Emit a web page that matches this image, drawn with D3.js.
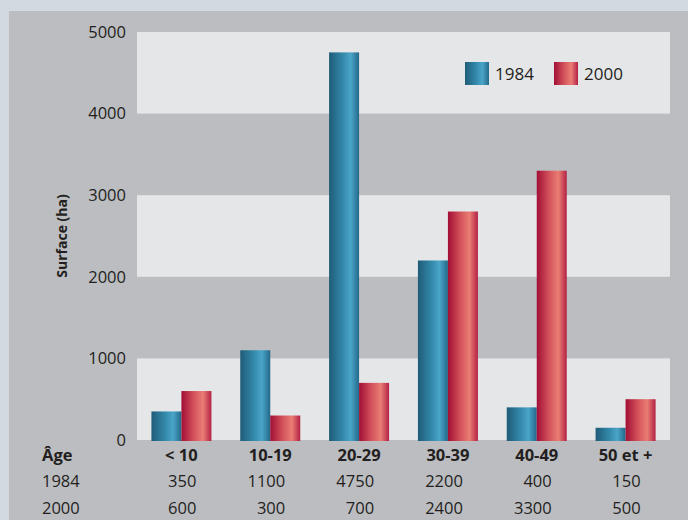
<!DOCTYPE html>
<html>
<head>
<meta charset="utf-8">
<script src="https://cdn.jsdelivr.net/npm/d3@7"></script>
<style>
  body { margin: 0; background: #d3d9e0; }
  svg { display: block; font-family: "Open Sans", "Noto Sans", sans-serif; }
</style>
</head>
<body>
<div id="chart"></div>
<script>
const ages = ["< 10", "10-19", "20-29", "30-39", "40-49", "50 et +"]
const series = ["1984", "2000"]
const values1984 = [350, 1100, 4750, 2200, 400, 150]
const values2000 = [600, 300, 700, 2800, 3300, 500]
// numbers printed in the table under the chart
const table1984 = ["350", "1100", "4750", "2200", "400", "150"]
const table2000 = ["600", "300", "700", "2400", "3300", "500"]
const yTicks = [0, 1000, 2000, 3000, 4000, 5000]

let width = 688, height = 520
let margin = { top: 32, right: 18, bottom: 80, left: 137 }
let fs = 16.5

let svg = d3.select("#chart")
    .append("svg")
    .attr("width", width)
    .attr("height", height)

// gray panel
svg.append("rect")
    .attr("x", 9).attr("y", 11)
    .attr("width", width - 9).attr("height", height - 11)
    .attr("fill", "#bcbdc1")

let x = d3.scaleBand()
    .domain(ages)
    .range([margin.left, width - margin.right])

let y = d3.scaleLinear()
    .domain([0, 5000])
    .range([height - margin.bottom, margin.top])

// light bands
svg.selectAll(".band")
    .data([0, 2000, 4000])
    .enter()
    .append("rect")
    .attr("class", "band")
    .attr("x", margin.left)
    .attr("width", width - margin.right - margin.left)
    .attr("y", d => y(d + 1000))
    .attr("height", d => y(d) - y(d + 1000))
    .attr("fill", "#e5e6e8")

// gradients
let defs = svg.append("defs")
function gradient(id, stops) {
    let g = defs.append("linearGradient").attr("id", id)
        .attr("x1", "0%").attr("x2", "100%").attr("y1", "0%").attr("y2", "0%")
    stops.forEach(s => g.append("stop").attr("offset", s[0]).attr("stop-color", s[1]))
}
gradient("blue", [["0%", "#1f5c78"], ["45%", "#3388aa"], ["72%", "#4aa5c8"], ["100%", "#23698a"]])
gradient("red", [["0%", "#a20f35"], ["40%", "#d2505a"], ["72%", "#ea7d74"], ["100%", "#b32144"]])

let xs = d3.scaleBand()
    .domain(series)
    .range([0, 60])

let offset = (x.bandwidth() - 60) / 2
let colors = { "1984": "url(#blue)", "2000": "url(#red)" }
let rows = ages.map((a, i) => ({ age: a, "1984": values1984[i], "2000": values2000[i] }))

let groups = svg.selectAll(".group")
    .data(rows)
    .enter()
    .append("g")
    .attr("transform", d => `translate(${x(d.age) + offset},0)`)

groups.selectAll("rect")
    .data(d => series.map(s => ({ key: s, value: d[s] })))
    .enter()
    .append("rect")
    .attr("x", d => xs(d.key))
    .attr("width", xs.bandwidth())
    .attr("y", d => y(d.value))
    .attr("height", d => y(0) - y(d.value) + 1)
    .attr("fill", d => colors[d.key])

// y axis labels
svg.selectAll(".ytick")
    .data(yTicks)
    .enter()
    .append("text")
    .attr("x", 126)
    .attr("y", d => y(d))
    .attr("dy", "0.35em")
    .attr("text-anchor", "end")
    .attr("font-size", fs)
    .attr("fill", "#231f20")
    .text(d => d)

svg.append("text")
    .attr("transform", `translate(67, ${y(2500)}) rotate(-90)`)
    .attr("text-anchor", "middle")
    .attr("font-size", 14)
    .attr("font-weight", "bold")
    .attr("fill", "#231f20")
    .text("Surface (ha)")

// legend
let legend = svg.append("g").attr("transform", "translate(465, 62)")
series.forEach((s, i) => {
    legend.append("rect")
        .attr("x", i * 89).attr("y", 0)
        .attr("width", 24).attr("height", 23)
        .attr("fill", colors[s])
    legend.append("text")
        .attr("x", i * 89 + 30).attr("y", 12)
        .attr("dy", "0.35em")
        .attr("font-size", 17)
        .attr("fill", "#231f20")
        .text(s)
})

// table below
let rowY = [455, 481, 508]
svg.append("text")
    .attr("x", 42).attr("y", rowY[0]).attr("dy", "0.35em")
    .attr("font-size", fs).attr("font-weight", "bold").attr("fill", "#231f20")
    .text("Âge")
svg.append("text")
    .attr("x", 42).attr("y", rowY[1]).attr("dy", "0.35em")
    .attr("font-size", fs).attr("fill", "#231f20")
    .text(series[0])
svg.append("text")
    .attr("x", 42).attr("y", rowY[2]).attr("dy", "0.35em")
    .attr("font-size", fs).attr("fill", "#231f20")
    .text(series[1])

svg.selectAll(".cat")
    .data(ages)
    .enter()
    .append("text")
    .attr("x", d => x(d) + x.bandwidth() / 2)
    .attr("y", rowY[0]).attr("dy", "0.35em")
    .attr("text-anchor", "middle")
    .attr("font-size", fs).attr("font-weight", "bold").attr("fill", "#231f20")
    .text(d => d)

;[table1984, table2000].forEach((t, r) => {
    svg.selectAll(".val" + r)
        .data(t)
        .enter()
        .append("text")
        .attr("x", (d, i) => x(ages[i]) + x.bandwidth() / 2 + 15)
        .attr("y", rowY[r + 1]).attr("dy", "0.35em")
        .attr("text-anchor", "end")
        .attr("font-size", fs).attr("fill", "#231f20")
        .text(d => d)
})
</script>
</body>
</html>
